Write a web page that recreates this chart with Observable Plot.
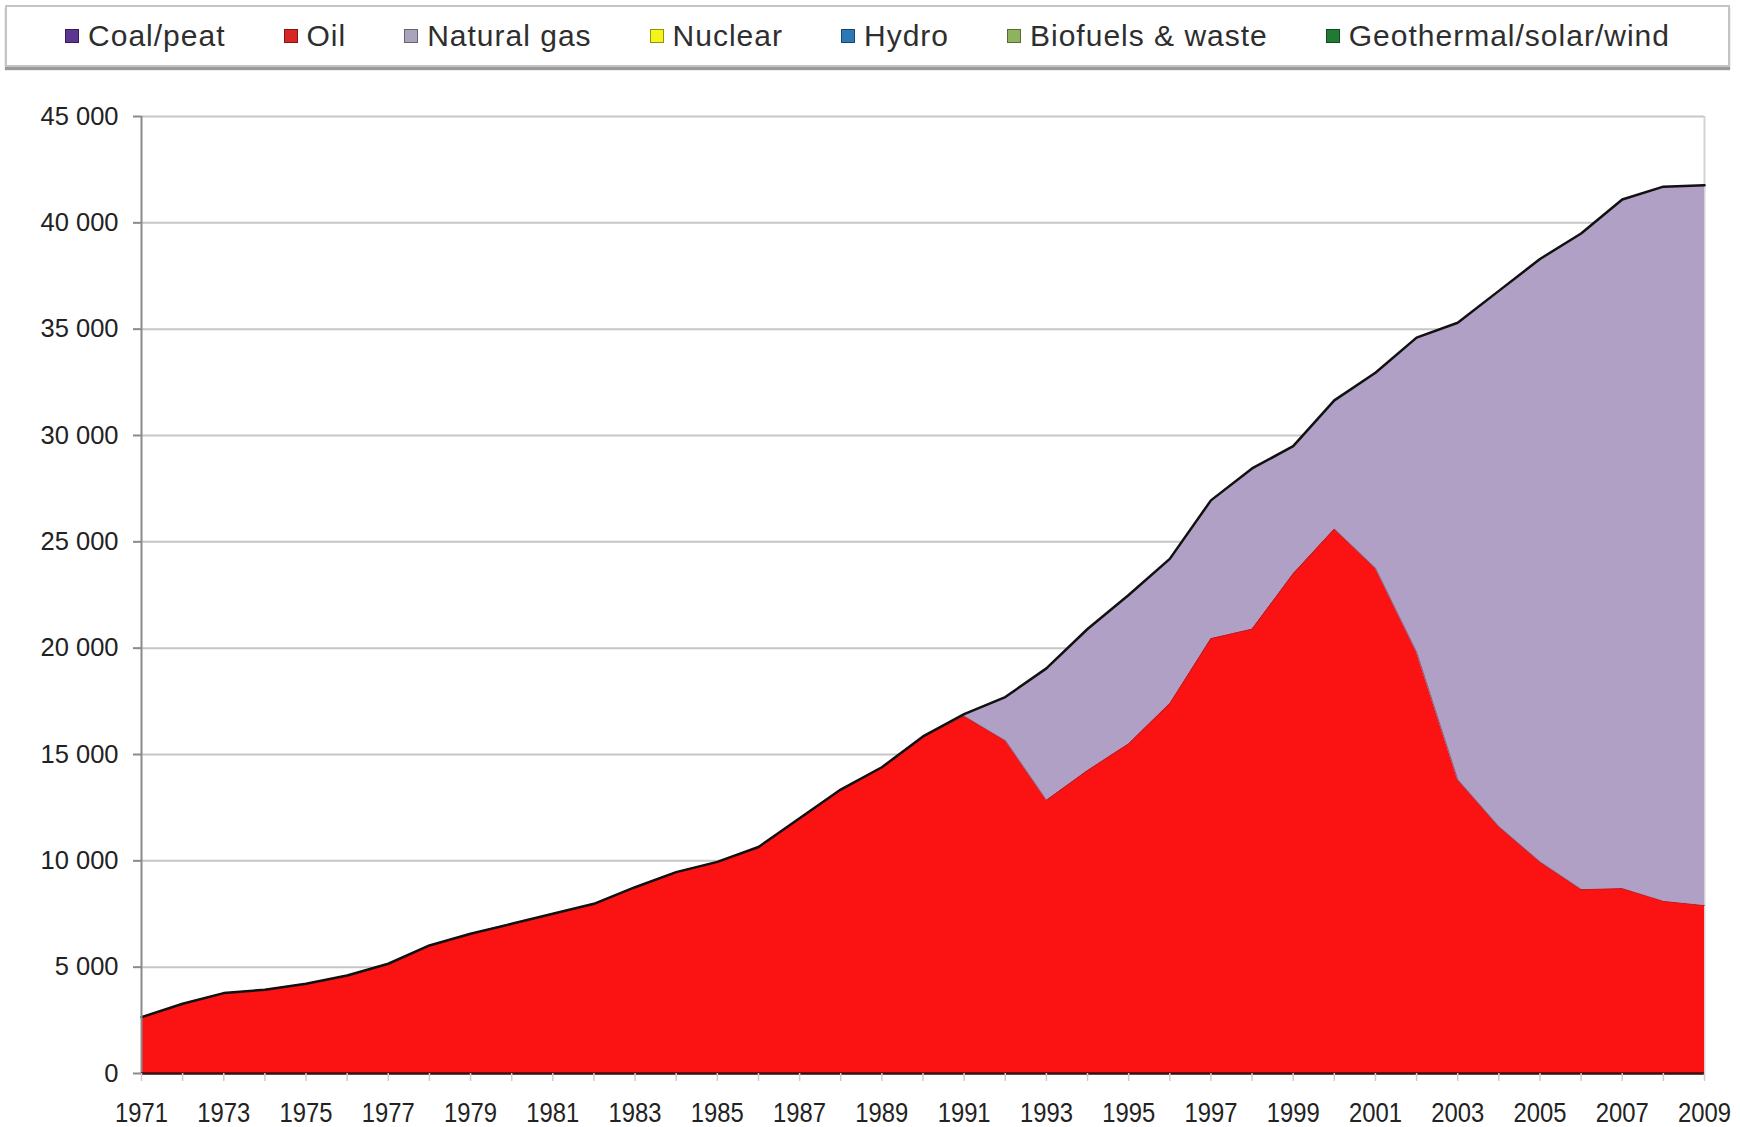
<!DOCTYPE html>
<html><head><meta charset="utf-8">
<script src="https://cdn.jsdelivr.net/npm/d3@7"></script>
<script src="https://cdn.jsdelivr.net/npm/@observablehq/plot@0.6"></script>
<style>
body{margin:0;background:#fff;width:1740px;height:1127px;position:relative;overflow:hidden;font-family:"Liberation Sans",Arial,sans-serif;}
#legend{position:absolute;left:5px;top:5px;width:1721px;height:58px;border:2px solid #c4c4c4;box-shadow:0 3px 1px #9a9a9a;display:flex;align-items:center;justify-content:center;gap:58px;font-size:30px;letter-spacing:1px;color:#2e2e2e;}
.item{display:flex;align-items:center;gap:9px;white-space:nowrap;}
.sw{width:12px;height:12px;border:1px solid rgba(0,0,0,.4);}
#chart{position:absolute;left:0;top:70px;}
</style></head>
<body><div id="legend"></div><div id="chart"></div>
<script>
const years = [1971,1972,1973,1974,1975,1976,1977,1978,1979,1980,1981,1982,1983,1984,1985,1986,1987,1988,1989,1990,
  1991,1992,1993,1994,1995,1996,1997,1998,1999,2000,2001,2002,2003,2004,2005,2006,2007,2008,2009];
const fuels = ["Coal/peat","Oil","Natural gas","Nuclear","Hydro","Biofuels & waste","Geothermal/solar/wind"];
const legendColors = ["#5b3591","#d82626","#aaa3ba","#f4f41a","#2c79b6","#8fb35c","#1f7a33"];
const areaColors = ["#5b3591","#fb1212","#b0a0c6","#f4f41a","#2c79b6","#8fb35c","#1f7a33"];
const oil = [2650,3280,3780,3940,4220,4610,5160,6020,6570,7040,7510,7980,8760,9470,9950,10650,12000,13350,14400,15850,
  16800,15650,12850,14250,15500,17400,20450,20900,23500,25600,23750,19800,13800,11600,9950,8650,8700,8100,7900];
const naturalGas = [0,0,0,0,0,0,0,0,0,0,0,0,0,0,0,0,0,0,0,0,
  100,2050,6200,6650,7000,6800,6500,7550,6000,6050,9200,14800,21500,25200,28350,30850,32400,33600,33870];
const yTicks = [0,5000,10000,15000,20000,25000,30000,35000,40000,45000];
const xLabelYears = [1971,1973,1975,1977,1979,1981,1983,1985,1987,1989,1991,1993,1995,1997,1999,2001,2003,2005,2007,2009];

// legend
const legend = d3.select("#legend");
fuels.forEach((f, i) => {
  const it = legend.append("div").attr("class", "item");
  it.append("div").attr("class", "sw").style("background", legendColors[i]);
  it.append("span").text(f);
});

const long = [];
years.forEach((y, i) => {
  long.push({year: y, fuel: "Oil", value: oil[i]});
  long.push({year: y, fuel: "Natural gas", value: naturalGas[i]});
});

const fmt = d => d3.format(",")(d).replace(/,/g, " ");

const chart = Plot.plot({
  width: 1740,
  height: 1057,
  marginTop: 46,
  marginBottom: 54,
  marginLeft: 141,
  marginRight: 36,
  style: {fontFamily: "'Liberation Sans', Arial, sans-serif", color: "#222", background: "transparent"},
  x: {domain: [1971, 2009], axis: null},
  y: {domain: [0, 45000], axis: null},
  color: {domain: fuels, range: areaColors},
  marks: [
    Plot.gridY(yTicks, {stroke: "#c6c6c6", strokeOpacity: 1, strokeWidth: 2}),
    Plot.ruleX([2009], {stroke: "#d4d4d4", strokeWidth: 2}),
    Plot.areaY(long, {x: "year", y: "value", fill: "fuel", z: "fuel", order: ["Oil", "Natural gas"]}),
    Plot.lineY(long.filter(d => d.fuel === "Oil"), {x: "year", y: "value", stroke: "#8e2a3c", strokeWidth: 1.2, strokeOpacity: 0.6}),
    Plot.lineY(long, Plot.groupX({y: "sum"}, {x: "year", y: "value", stroke: "#111", strokeWidth: 2.5})),
    Plot.ruleX([1971], {stroke: "#8a8a8a", strokeWidth: 2}),
    Plot.ruleY([0], {stroke: "#3a1010", strokeWidth: 2.5}),
    Plot.axisY({ticks: yTicks, tickSize: 8, tickPadding: 15, tickFormat: fmt, fontSize: 25.5, anchor: "left", label: null}),
    Plot.axisX({ticks: years, tickSize: 8, tickFormat: () => "", anchor: "bottom", label: null}),
    Plot.axisX({ticks: xLabelYears, tickSize: 0, tickPadding: 29, tickFormat: d => String(d), fontSize: 27, anchor: "bottom", label: null})
  ]
});
document.getElementById("chart").appendChild(chart);
const svg = d3.select(chart);
svg.selectAll('g[aria-label="y-axis tick"] path').attr("stroke", "#8a8a8a").attr("stroke-width", 2);
svg.selectAll('g[aria-label="x-axis tick"] path').attr("stroke", "#d8c8c8").attr("stroke-width", 1.5);
svg.selectAll('g[aria-label="x-axis tick label"] text').each(function() {
  if (this.textContent) d3.select(this).attr("textLength", 53).attr("lengthAdjust", "spacingAndGlyphs");
});
</script>
</body></html>
